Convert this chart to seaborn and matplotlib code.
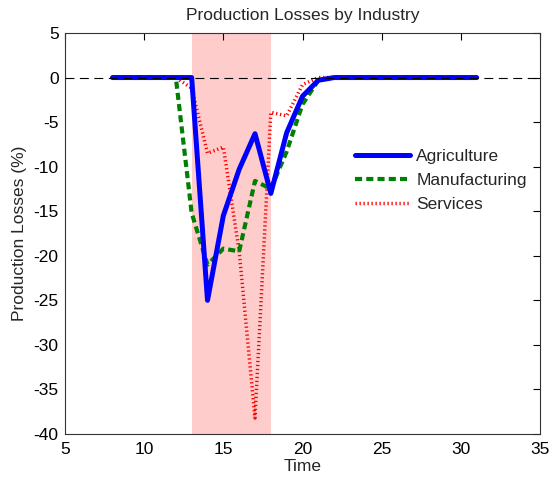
import numpy as np
import pandas as pd
import matplotlib
matplotlib.use("Agg")
import matplotlib.pyplot as plt
import seaborn as sns

# Time steps and production losses (%) per industry
time = list(range(8, 32))
agriculture = [0, 0, 0, 0, 0, 0, -25, -15.5, -10.3, -6.3, -13, -6.2, -2.1, -0.3,
               0, 0, 0, 0, 0, 0, 0, 0, 0, 0]
manufacturing = [0, 0, 0, 0, 0, -15.2, -21, -19.2, -19.5, -11.6, -12.5, -8.3, -3, -0.3,
                 0, 0, 0, 0, 0, 0, 0, 0, 0, 0]
services = [0, 0, 0, 0, 0, -1.2, -8.5, -7.8, -19.5, -38.2, -3.9, -4.3, -0.8, 0,
            0, 0, 0, 0, 0, 0, 0, 0, 0, 0]
industries = ["Agriculture", "Manufacturing", "Services"]
shock_start, shock_end = 13, 18

df = pd.DataFrame({
    "Time": time * 3,
    "Loss": agriculture + manufacturing + services,
    "Industry": sum([[name] * len(time) for name in industries], []),
})

sns.set_style("white")
plt.rcParams["font.family"] = ["Liberation Sans", "DejaVu Sans"]
plt.rcParams["axes.unicode_minus"] = False

fig = plt.figure(figsize=(5.52, 4.84), dpi=100)
ax = fig.add_axes([65 / 552, 1 - 434 / 484, (540 - 65) / 552, (434 - 33) / 484])

styles = {
    "Agriculture": dict(color=(0, 0, 1), lw=3.6, ls="-", z=5),
    "Manufacturing": dict(color=(0, 0.5, 0), lw=3.0, ls=(0, (1.7, 1.0)), z=4),
    "Services": dict(color=(1, 0, 0), lw=2.5, ls=(0, (0.37, 0.78)), z=3),
}

# shaded shock period
ax.axvspan(shock_start, shock_end, color="#ffcccc", lw=0, zorder=0)

for name in industries:
    st = styles[name]
    sns.lineplot(data=df[df["Industry"] == name], x="Time", y="Loss", ax=ax,
                 color=st["color"], linewidth=st["lw"], linestyle=st["ls"],
                 label=name, zorder=st["z"], sort=False)

ax.axhline(0, color="black", lw=0.8, ls=(0, (8, 5)), zorder=6)

ax.set_xlim(5, 35)
ax.set_ylim(-40, 5)
ax.set_xticks(range(5, 36, 5))
ax.set_yticks(range(-40, 6, 5))
ax.tick_params(direction="in", length=5, width=0.8, top=True, right=True,
               labelsize=12.5, colors="black")
ax.tick_params(axis="x", pad=5.5)
ax.tick_params(axis="y", pad=4.5)
for s in ax.spines.values():
    s.set_color("#333333")
    s.set_linewidth(0.8)

ax.set_title("Production Losses by Industry", fontsize=12.5, pad=9.5)
ax.set_xlabel("Time", fontsize=12.5, labelpad=2)
ax.set_ylabel("Production Losses (%)", fontsize=12.5, labelpad=5)

ax.legend(loc="upper left", bbox_to_anchor=(0.596, 0.728), frameon=False,
          fontsize=12.5, handlelength=3.15, handletextpad=0.38, labelspacing=0.51,
          borderaxespad=0)

fig.savefig("out.png", dpi=100)
